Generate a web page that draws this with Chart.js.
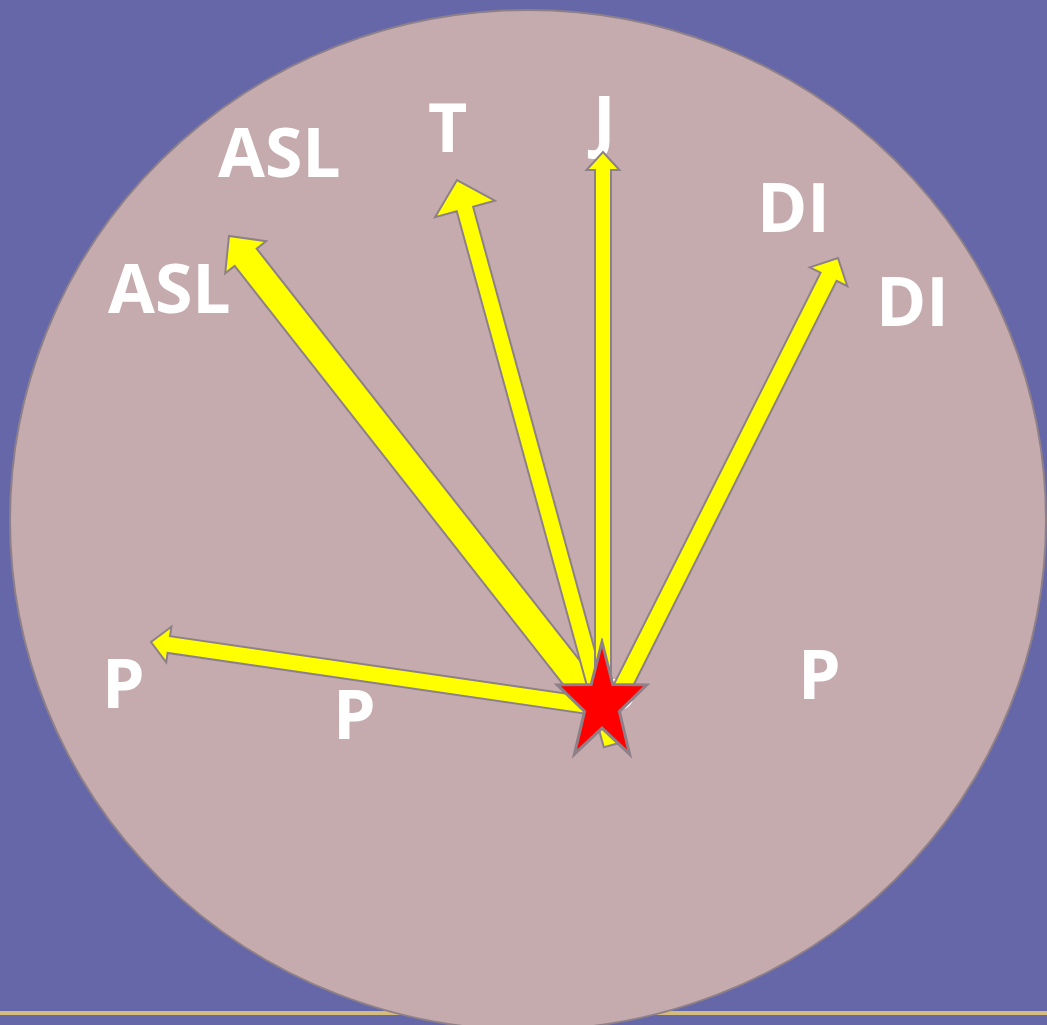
<!DOCTYPE html>
<html>
<head>
<meta charset="utf-8">
<script src="https://cdn.jsdelivr.net/npm/chart.js@4.4.1/dist/chart.umd.min.js"></script>
<style>
  html, body { margin: 0; padding: 0; background: #6667a9; }
  #wrap { width: 1047px; height: 1025px; }
</style>
</head>
<body>
<div id="wrap"><canvas id="chart" width="1047" height="1025"></canvas></div>
<script>
// arrows: from the star out to each label group
const arrowNames = ['P', 'ASL', 'T', 'J', 'DI'];
const arrowTailX = [592, 597, 612, 603, 616];
const arrowTailY = [706, 705, 745, 702, 700];
const arrowTipX = [151, 229, 457, 603, 838];
const arrowTipY = [642, 236, 180, 152, 258];

// labels around the circle
const labelText = ['ASL', 'ASL', 'T', 'J', 'DI', 'DI', 'P', 'P', 'P', 'P'];
const labelX = [218, 108, 428, 593, 757, 876, 102, 333, 798, 594];
const labelY = [177, 313, 152, 145, 232, 326, 708, 739, 699, 728];

// star at the origin of the arrows
const starX = [602];
const starY = [704];

// drawing styles (not data)
const shaftW = [17, 28, 17, 16, 18];
const headW = [36, 52, 62, 33, 42];
const headL = [18, 27, 30, 18, 21];
const edgeCol = '#8e8088';

function makeStar(rx, ry) {
    const c = document.createElement('canvas');
    c.width = Math.ceil(rx * 2 + 8);
    c.height = Math.ceil(ry * 2 + 8);
    const g = c.getContext('2d');
    const cx = c.width / 2, cy = c.height / 2;
    g.beginPath();
    for (let k = 0; k < 10; k++) {
        const a = -Math.PI / 2 + k * Math.PI / 5;
        const f = k % 2 === 0 ? 1 : 0.39;
        const px = cx + rx * f * Math.cos(a), py = cy + ry * f * Math.sin(a);
        k === 0 ? g.moveTo(px, py) : g.lineTo(px, py);
    }
    g.closePath();
    g.fillStyle = '#ff0000';
    g.fill();
    g.lineWidth = 3;
    g.strokeStyle = edgeCol;
    g.lineJoin = 'miter';
    g.stroke();
    return c;
}

const scenePlugin = {
    id: 'scene',
    beforeDraw(chart) {
        const ctx = chart.ctx;
        ctx.save();
        ctx.fillStyle = '#6667a9';
        ctx.fillRect(0, 0, chart.width, chart.height);
        ctx.restore();
    },
    beforeDatasetsDraw(chart) {
        const ctx = chart.ctx, xs = chart.scales.x, ys = chart.scales.y;
        ctx.save();

        // bottom rule
        const ly = ys.getPixelForValue(1013);
        ctx.fillStyle = '#d4bc7c';
        ctx.fillRect(0, ly - 2, chart.width, 4);

        // big disc
        const cx = xs.getPixelForValue(528), cy = ys.getPixelForValue(520);
        const rx = xs.getPixelForValue(528 + 518) - cx;
        const ry = ys.getPixelForValue(520 + 510) - cy;
        ctx.beginPath();
        ctx.ellipse(cx, cy, Math.abs(rx), Math.abs(ry), 0, 0, Math.PI * 2);
        ctx.fillStyle = '#c5abae';
        ctx.fill();
        ctx.lineWidth = 2;
        ctx.strokeStyle = edgeCol;
        ctx.stroke();

        // labels
        ctx.fillStyle = '#ffffff';
        ctx.font = 'bold 68px "Open Sans", "Noto Sans", sans-serif';
        ctx.textAlign = 'left';
        ctx.textBaseline = 'alphabetic';
        labelText.forEach((t, i) => {
            ctx.fillText(t, xs.getPixelForValue(labelX[i]), ys.getPixelForValue(labelY[i]));
        });

        // arrows
        arrowNames.forEach((name, i) => {
            const tx = xs.getPixelForValue(arrowTailX[i]), ty = ys.getPixelForValue(arrowTailY[i]);
            const px = xs.getPixelForValue(arrowTipX[i]), py = ys.getPixelForValue(arrowTipY[i]);
            const len = Math.hypot(px - tx, py - ty);
            const ux = (px - tx) / len, uy = (py - ty) / len;
            const nx = -uy, ny = ux;
            const bx = px - ux * headL[i], by = py - uy * headL[i];
            const s = shaftW[i] / 2, h = headW[i] / 2;
            ctx.beginPath();
            ctx.moveTo(tx + nx * s, ty + ny * s);
            ctx.lineTo(bx + nx * s, by + ny * s);
            ctx.lineTo(bx + nx * h, by + ny * h);
            ctx.lineTo(px, py);
            ctx.lineTo(bx - nx * h, by - ny * h);
            ctx.lineTo(bx - nx * s, by - ny * s);
            ctx.lineTo(tx - nx * s, ty - ny * s);
            ctx.closePath();
            ctx.fillStyle = '#ffff00';
            ctx.fill();
            ctx.lineWidth = 2;
            ctx.lineJoin = 'miter';
            ctx.strokeStyle = edgeCol;
            ctx.stroke();
        });
        ctx.restore();
    }
};

new Chart(document.getElementById('chart'), {
    type: 'scatter',
    data: {
        datasets: [{
            label: 'origin',
            data: starX.map((x, i) => ({ x: x, y: starY[i] })),
            pointStyle: makeStar(47, 62),
            pointRadius: 1,
            pointHoverRadius: 1
        }]
    },
    options: {
        responsive: false,
        animation: false,
        devicePixelRatio: 1,
        layout: { padding: 0, autoPadding: false },
        events: [],
        scales: {
            x: { type: 'linear', min: 0, max: 1047, display: false },
            y: { type: 'linear', min: 0, max: 1025, reverse: true, display: false }
        },
        plugins: { legend: { display: false }, tooltip: { enabled: false } }
    },
    plugins: [scenePlugin]
});
</script>
</body>
</html>
